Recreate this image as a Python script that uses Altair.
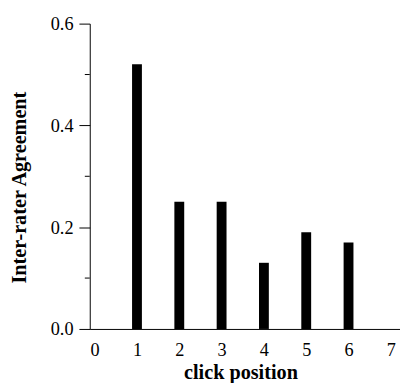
import altair as alt
import pandas as pd

positions = [1, 2, 3, 4, 5, 6]
agreement = [0.52, 0.25, 0.25, 0.13, 0.19, 0.17]
x_ticks = [0, 1, 2, 3, 4, 5, 6, 7]
y_major = [0.0, 0.2, 0.4, 0.6]
y_minor = [0.1, 0.3, 0.5]

df = pd.DataFrame({"pos": positions, "val": agreement})
minor_df = pd.DataFrame({"v": y_minor})

FONT = "Times New Roman, Liberation Serif, serif"

x_scale = alt.Scale(domain=[0, 7.1], nice=False, zero=False)
y_scale = alt.Scale(domain=[0, 0.6], nice=False)

bars = alt.Chart(df).mark_bar(color="black", size=10).encode(
    x=alt.X("pos:Q", scale=x_scale,
            axis=alt.Axis(values=x_ticks, format="d", ticks=False,
                          labelPadding=12, title="click position",
                          titleX=153, titleY=50, titleBaseline="alphabetic",
                          titleAnchor="start", titleAlign="center")),
    y=alt.Y("val:Q", scale=y_scale,
            axis=alt.Axis(values=y_major, format=".1f", tickSize=11,
                          labelPadding=6, title="Inter-rater Agreement",
                          titleX=-71, titleY=166, titleAngle=-90,
                          titleAlign="center", titleBaseline="middle",
                          titleAnchor="start")),
)

minor = alt.Chart(minor_df).mark_rule(color="black", strokeWidth=1).encode(
    y=alt.Y("v:Q", scale=y_scale),
    x=alt.value(0),
    x2=alt.value(-5),
)

chart = alt.layer(bars, minor).properties(
    width=315, height=310,
    autosize=alt.AutoSizeParams(type="none"),
    padding={"left": 83, "top": 13, "right": 0, "bottom": 52},
).configure_view(stroke=None).configure_axis(
    grid=False,
    domainColor="black",
    tickColor="black",
    labelColor="black",
    titleColor="black",
    labelFont=FONT,
    titleFont=FONT,
    labelFontSize=18.5,
    titleFontSize=20.5,
    titleFontWeight="bold",
    labelFontWeight="normal",
)

chart.save("out.html", embed_options={"renderer": "svg", "actions": False})
